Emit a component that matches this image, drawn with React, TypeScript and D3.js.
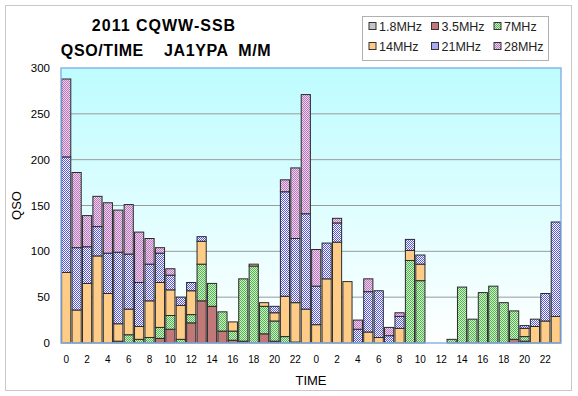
import React, { useEffect, useRef } from 'react';
import * as d3 from 'd3';

// bands, bottom to top in the stack
const bands = ['1.8MHz', '3.5MHz', '7MHz', '14MHz', '21MHz', '28MHz'];

// hour labels for the 48 contest hours (UTC)
const hours = [
  0, 1, 2, 3, 4, 5, 6, 7, 8, 9, 10, 11, 12, 13, 14, 15, 16, 17, 18, 19, 20, 21, 22, 23,
  0, 1, 2, 3, 4, 5, 6, 7, 8, 9, 10, 11, 12, 13, 14, 15, 16, 17, 18, 19, 20, 21, 22, 23,
];

const qso160 = [
  0, 0, 0, 0, 0, 0, 0, 0, 0, 0, 0, 0, 0, 0, 0, 0, 0, 0, 0, 0, 0, 0, 1, 0,
  0, 0, 0, 0, 0, 0, 0, 0, 0, 0, 0, 0, 0, 0, 0, 0, 0, 0, 0, 0, 0, 0, 0, 0,
];
const qso80 = [
  0, 0, 0, 0, 0, 0, 0, 0, 0, 5, 15, 0, 22, 46, 40, 13, 3, 2, 0, 10, 2, 0, 0, 0,
  0, 0, 0, 0, 0, 0, 0, 0, 0, 0, 0, 0, 0, 0, 0, 0, 0, 0, 0, 4, 2, 0, 0, 0,
];
const qso40 = [
  0, 0, 0, 0, 0, 2, 9, 4, 6, 12, 15, 4, 9, 40, 25, 21, 10, 68, 84, 30, 22, 7, 0, 0,
  0, 0, 0, 0, 0, 0, 0, 0, 0, 90, 68, 0, 0, 4, 61, 26, 55, 62, 44, 31, 5, 0, 0, 0,
];
const qso20 = [
  77, 36, 65, 95, 54, 19, 28, 14, 40, 49, 28, 37, 26, 25, 0, 0, 10, 0, 2, 4, 9, 44, 43, 37,
  20, 70, 110, 67, 0, 12, 6, 0, 16, 11, 18, 0, 0, 0, 0, 0, 0, 0, 0, 0, 9, 18, 24, 29,
];
const qso15 = [
  126, 68, 40, 32, 44, 78, 60, 48, 40, 32, 16, 9, 9, 5, 0, 0, 0, 0, 0, 0, 7, 114, 70, 104,
  42, 39, 21, 0, 15, 44, 51, 8, 13, 12, 10, 0, 0, 0, 0, 0, 0, 0, 0, 0, 3, 8, 30, 103,
];
const qso10 = [
  85, 82, 34, 33, 55, 46, 54, 55, 28, 6, 7, 0, 0, 0, 0, 0, 0, 0, 0, 0, 0, 13, 77, 130,
  40, 0, 5, 0, 10, 14, 0, 9, 4, 0, 0, 0, 0, 0, 0, 0, 0, 0, 0, 0, 0, 0, 0, 0,
];

const yTicks = [0, 50, 100, 150, 200, 250, 300];

const W = 578;
const H = 396;
const margin = { top: 68, right: 17, bottom: 53, left: 61 };

// fill + second dither colour (null = solid)
const bandStyle = [
  { fill: '#c4c4c4', dot: null },
  { fill: '#c07878', dot: null },
  { fill: '#c8f4c0', dot: '#5cae5c' },
  { fill: '#ffcc88', dot: null },
  { fill: '#ffffff', dot: '#5656e6' },
  { fill: '#f2cdf0', dot: '#b27eb8' },
];

export default function App() {
  const ref = useRef<SVGSVGElement>(null);

  useEffect(() => {
    const svg = d3.select(ref.current);
    svg.selectAll('*').remove();

    const series = [qso160, qso80, qso40, qso20, qso15, qso10];
    const rows = hours.map((h, i) => {
      const r: any = { idx: i, hour: h };
      bands.forEach((b, k) => (r[b] = series[k][i]));
      return r;
    });

    const x0 = margin.left;
    const x1 = W - margin.right;
    const y0 = H - margin.bottom;
    const y1 = margin.top;

    const x = d3.scaleBand<number>()
      .domain(rows.map(d => d.idx))
      .range([x0, x1])
      .paddingInner(0.12)
      .paddingOuter(0.06);

    const y = d3.scaleLinear().domain([0, 300]).range([y0, y1]);

    const defs = svg.append('defs');
    const grad = defs.append('linearGradient')
      .attr('id', 'bg')
      .attr('x1', 0).attr('y1', 0).attr('x2', 0).attr('y2', 1);
    grad.append('stop').attr('offset', '0%').attr('stop-color', '#bdfcff');
    grad.append('stop').attr('offset', '100%').attr('stop-color', '#ffffff');

    bandStyle.forEach((s, k) => {
      if (!s.dot) return;
      const p = defs.append('pattern')
        .attr('id', 'pat' + k)
        .attr('patternUnits', 'userSpaceOnUse')
        .attr('width', 2).attr('height', 2);
      p.append('rect').attr('width', 2).attr('height', 2).attr('fill', s.fill);
      p.append('rect').attr('width', 1).attr('height', 1).attr('fill', s.dot);
      p.append('rect').attr('x', 1).attr('y', 1).attr('width', 1).attr('height', 1).attr('fill', s.dot);
    });
    const fillOf = (k: number) => (bandStyle[k].dot ? `url(#pat${k})` : bandStyle[k].fill);

    // outer frame
    svg.append('rect')
      .attr('x', 5.5).attr('y', 5.5)
      .attr('width', 566).attr('height', 385)
      .attr('fill', '#fff')
      .attr('stroke', '#c8c8c8');

    // plot area
    svg.append('rect')
      .attr('x', x0).attr('y', y1)
      .attr('width', x1 - x0).attr('height', y0 - y1)
      .attr('fill', 'url(#bg)');

    svg.append('g')
      .selectAll('line')
      .data(yTicks.filter(t => t > 0 && t < 300))
      .enter().append('line')
      .attr('x1', x0).attr('x2', x1)
      .attr('y1', d => y(d)).attr('y2', d => y(d))
      .attr('stroke', '#9a9a9a');

    const stack = d3.stack<any>().keys(bands);
    const layers = stack(rows);

    svg.append('g')
      .selectAll('g')
      .data(layers)
      .enter().append('g')
      .attr('fill', (d, k) => fillOf(k))
      .selectAll('rect')
      .data(d => d.filter(p => p[1] - p[0] > 0))
      .enter().append('rect')
      .attr('x', p => x(p.data.idx)!)
      .attr('width', x.bandwidth())
      .attr('y', p => y(p[1]))
      .attr('height', p => y(p[0]) - y(p[1]))
      .attr('stroke', '#2a2a2a')
      .attr('stroke-width', 1);

    // plot border
    svg.append('rect')
      .attr('x', x0).attr('y', y1)
      .attr('width', x1 - x0).attr('height', y0 - y1)
      .attr('fill', 'none')
      .attr('stroke', '#8ab4e6')
      .attr('stroke-width', 1.5);

    const font = '"Liberation Sans", Arial, sans-serif';

    // y labels
    svg.append('g')
      .selectAll('text')
      .data(yTicks)
      .enter().append('text')
      .attr('x', 50)
      .attr('y', d => y(d) + 4)
      .attr('text-anchor', 'end')
      .attr('font-family', font)
      .attr('font-size', 11.5)
      .text(d => d);

    // x labels, every other hour
    svg.append('g')
      .selectAll('text')
      .data(rows.filter(d => d.idx % 2 === 0))
      .enter().append('text')
      .attr('x', d => x(d.idx)! + x.bandwidth() / 2)
      .attr('y', y0 + 20)
      .attr('text-anchor', 'middle')
      .attr('font-family', font)
      .attr('font-size', 10)
      .text(d => d.hour);

    svg.append('text')
      .attr('x', (x0 + x1) / 2)
      .attr('y', 385)
      .attr('text-anchor', 'middle')
      .attr('font-family', font)
      .attr('font-size', 13)
      .text('TIME');

    svg.append('text')
      .attr('transform', `translate(21,${(y0 + y1) / 2}) rotate(-90)`)
      .attr('text-anchor', 'middle')
      .attr('font-family', font)
      .attr('font-size', 13)
      .text('QSO');

    // title
    svg.append('text')
      .attr('x', 164).attr('y', 31)
      .attr('text-anchor', 'middle')
      .attr('font-family', font)
      .attr('font-weight', 'bold')
      .attr('font-size', 16)
      .attr('letter-spacing', 1)
      .text('2011 CQWW-SSB');
    svg.append('text')
      .attr('x', 166).attr('y', 56)
      .attr('text-anchor', 'middle')
      .attr('font-family', font)
      .attr('font-weight', 'bold')
      .attr('font-size', 16)
      .attr('letter-spacing', 0.6)
      .style('white-space', 'pre')
      .text('QSO/TIME    JA1YPA  M/M');

    // legend
    const lg = svg.append('g');
    lg.append('rect')
      .attr('x', 362.5).attr('y', 16.5)
      .attr('width', 186).attr('height', 44)
      .attr('fill', '#fff')
      .attr('stroke', '#b0b0b0');
    const item = lg.selectAll('g')
      .data(bands)
      .enter().append('g')
      .attr('transform', (d, k) => `translate(${369 + (k % 3) * 62.5},${k < 3 ? 26 : 46})`);
    item.append('rect')
      .attr('x', 0).attr('y', -3.5)
      .attr('width', 7).attr('height', 7)
      .attr('fill', (d, k) => fillOf(k))
      .attr('stroke', '#333');
    item.append('text')
      .attr('x', 10).attr('y', 4.5)
      .attr('font-family', font)
      .attr('font-size', 12.5)
      .attr('fill', '#222')
      .text(d => d);
  }, []);

  return (
    <div style={{ position: 'absolute', left: 0, top: 0 }}>
      <svg ref={ref} width={W} height={H} style={{ display: 'block' }} />
    </div>
  );
}
